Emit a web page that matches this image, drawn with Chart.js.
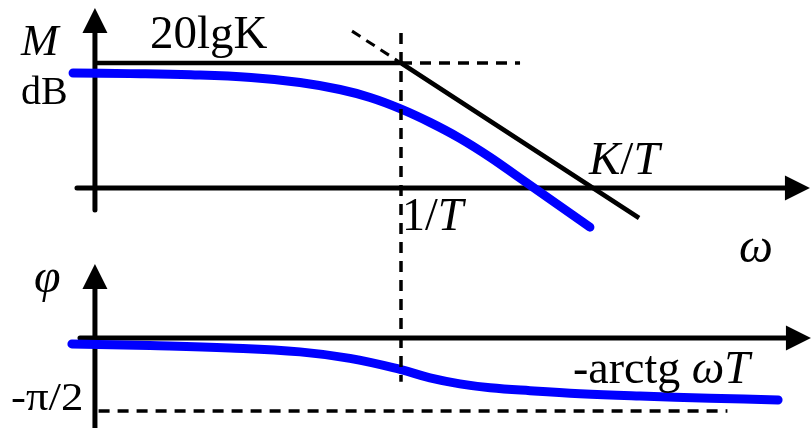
<!DOCTYPE html>
<html>
<head>
<meta charset="utf-8">
<script src="https://cdn.jsdelivr.net/npm/chart.js@4/dist/chart.umd.min.js"></script>
<style>
  html, body { margin: 0; padding: 0; background: #fff; }
  #wrap { width: 811px; height: 428px; position: relative; }
</style>
</head>
<body>
<div id="wrap"><canvas id="bode"></canvas></div>
<script>
// Frequency axis in decades: x = lg(ωT), so the corner 1/T sits at x = 0 and K/T (K = 10) at x = 1.
// Magnitude in dB (20lgK = 20 dB), phase in degrees.

// Actual magnitude curve
const magX  = [-1.708, -1.411, -1.094, -0.781, -0.526, -0.318, -0.161, -0.005, 0.151, 0.307, 0.464, 0.620, 0.802, 0.984];
const magDb = [18.40, 18.30, 18.11, 17.68, 16.88, 15.76, 14.48, 12.70, 10.50, 7.95, 4.93, 1.57, -2.35, -6.27];

// Actual phase curve
const phaseX   = [-1.714, -1.307, -0.891, -0.526, -0.266, -0.005, 0.151, 0.307, 0.464, 0.672, 0.932, 1.245, 1.609, 1.964];
const phaseDeg = [-7.4, -9.4, -12.3, -17.1, -25.2, -38.7, -49.1, -56.5, -61.3, -65.0, -68.7, -71.6, -74.2, -76.4];

// Asymptotes: 20lgK level, then -20 dB/decade
const asymX  = [-1.594, 0, 1.24];
const asymDb = [20, 20, -4.8];
const slopeExtX  = [-0.255, 0];
const slopeExtDb = [25.1, 20];
const levelExtX  = [0, 0.62];
const levelExtDb = [20, 20];

// Corner frequency marker (spans both panels, expressed on the dB scale)
const cornerX  = [0, 0];
const cornerDb = [24.8, -31.0];

// -π/2 phase limit
const limitX   = [-1.575, 1.70];
const limitDeg = [-90, -90];

// Axis extents
const xRange   = [-2.0885, 2.1354];
const dbRange  = [-38.4, 30.08];
const degRange = [-110.96, 416.7];
const axisX0 = -1.594;             // position of the vertical axes
const magAxisX   = [-1.6875, 2.130];
const magAxisDb  = [-3.52, 28.8];
const phAxisX    = [-1.672, 2.135];
const phAxisDeg  = [-110.96, 91.2];

const pts = (xs, ys) => xs.map((v, i) => ({ x: v, y: ys[i] }));

const BLUE = '#0000ff';
const serif = '"Liberation Serif", "Times New Roman", serif';

function line(data, axis, color, width, dash, smooth) {
  return {
    data, yAxisID: axis, showLine: true, pointRadius: 0, pointHoverRadius: 0,
    borderColor: color, borderWidth: width, borderDash: dash || [],
    borderCapStyle: smooth ? 'round' : 'butt', borderJoinStyle: 'round',
    tension: smooth ? 0.4 : 0,
    clip: false, fill: false
  };
}

function drawArrow(ctx, x1, y1, x2, y2) {
  const len = 25, half = 12.5;
  const dx = x2 - x1, dy = y2 - y1, d = Math.hypot(dx, dy);
  const ux = dx / d, uy = dy / d;
  ctx.save();
  ctx.strokeStyle = '#000';
  ctx.fillStyle = '#000';
  ctx.lineWidth = 5;
  ctx.lineCap = 'round';
  ctx.beginPath();
  ctx.moveTo(x1, y1);
  ctx.lineTo(x2 - ux * (len - 2), y2 - uy * (len - 2));
  ctx.stroke();
  ctx.beginPath();
  ctx.moveTo(x2, y2);
  ctx.lineTo(x2 - ux * len - uy * half, y2 - uy * len + ux * half);
  ctx.lineTo(x2 - ux * len + uy * half, y2 - uy * len - ux * half);
  ctx.closePath();
  ctx.fill();
  ctx.restore();
}

function drawRuns(ctx, runs, x, y, size, sx) {
  ctx.save();
  ctx.translate(x, y);
  ctx.scale(sx || 1, 1);
  let cx = 0;
  for (const r of runs) {
    ctx.font = (r.it ? 'italic ' : '') + size + 'px ' + serif;
    ctx.fillText(r.t, cx, 0);
    cx += ctx.measureText(r.t).width + (r.gap || 0);
  }
  ctx.restore();
}

const bodeDecor = {
  id: 'bodeDecor',
  beforeDatasetsDraw(chart) {
    const { ctx, scales } = chart;
    const xs = scales.x, ym = scales.yM, yp = scales.yP;
    // magnitude panel axes
    drawArrow(ctx, xs.getPixelForValue(magAxisX[0]), ym.getPixelForValue(0),
                   xs.getPixelForValue(magAxisX[1]), ym.getPixelForValue(0));
    drawArrow(ctx, xs.getPixelForValue(axisX0), ym.getPixelForValue(magAxisDb[0]),
                   xs.getPixelForValue(axisX0), ym.getPixelForValue(magAxisDb[1]));
    // phase panel axes
    drawArrow(ctx, xs.getPixelForValue(phAxisX[0]), yp.getPixelForValue(0),
                   xs.getPixelForValue(phAxisX[1]), yp.getPixelForValue(0));
    drawArrow(ctx, xs.getPixelForValue(axisX0), yp.getPixelForValue(phAxisDeg[0]),
                   xs.getPixelForValue(axisX0), yp.getPixelForValue(phAxisDeg[1]));
  },
  afterDatasetsDraw(chart) {
    const ctx = chart.ctx;
    ctx.save();
    ctx.fillStyle = '#000';
    ctx.textBaseline = 'alphabetic';
    drawRuns(ctx, [{ t: 'M', it: true }], 21, 55, 45);
    drawRuns(ctx, [{ t: 'dB' }], 21, 104, 40);
    drawRuns(ctx, [{ t: '20lgK' }], 150, 48, 47);
    drawRuns(ctx, [{ t: 'K', it: true }, { t: '/' }, { t: 'T', it: true }], 589, 174, 47);
    drawRuns(ctx, [{ t: '1' }, { t: '/' }, { t: 'T', it: true }], 402, 230, 46);
    drawRuns(ctx, [{ t: 'ω', it: true }], 739, 262, 48);
    drawRuns(ctx, [{ t: 'φ', it: true }], 34, 292, 48);
    drawRuns(ctx, [{ t: '-arctg ' }, { t: 'ωT', it: true }], 573, 383, 46);
    drawRuns(ctx, [{ t: '-π/2' }], 11, 410, 40, 1.12);
    ctx.restore();
  }
};

new Chart(document.getElementById('bode'), {
  type: 'scatter',
  data: {
    datasets: [
      line(pts(cornerX, cornerDb), 'yM', '#000', 3.5, [11, 8], false),
      line(pts(limitX, limitDeg), 'yP', '#000', 3.5, [11, 8], false),
      line(pts(slopeExtX, slopeExtDb), 'yM', '#000', 3, [10, 7], false),
      line(pts(levelExtX, levelExtDb), 'yM', '#000', 3.5, [11, 8], false),
      line(pts(asymX, asymDb), 'yM', '#000', 4.5, [], false),
      line(pts(magX, magDb), 'yM', BLUE, 9, [], true),
      line(pts(phaseX, phaseDeg), 'yP', BLUE, 9, [], true)
    ]
  },
  options: {
    responsive: true,
    maintainAspectRatio: false,
    devicePixelRatio: 1,
    animation: false,
    events: [],
    layout: { padding: 0 },
    plugins: { legend: { display: false }, tooltip: { enabled: false } },
    scales: {
      x:  { type: 'linear', min: xRange[0], max: xRange[1], display: false },
      yM: { type: 'linear', position: 'left', min: dbRange[0], max: dbRange[1], display: false },
      yP: { type: 'linear', position: 'left', min: degRange[0], max: degRange[1], display: false }
    }
  },
  plugins: [bodeDecor]
});
</script>
</body>
</html>
